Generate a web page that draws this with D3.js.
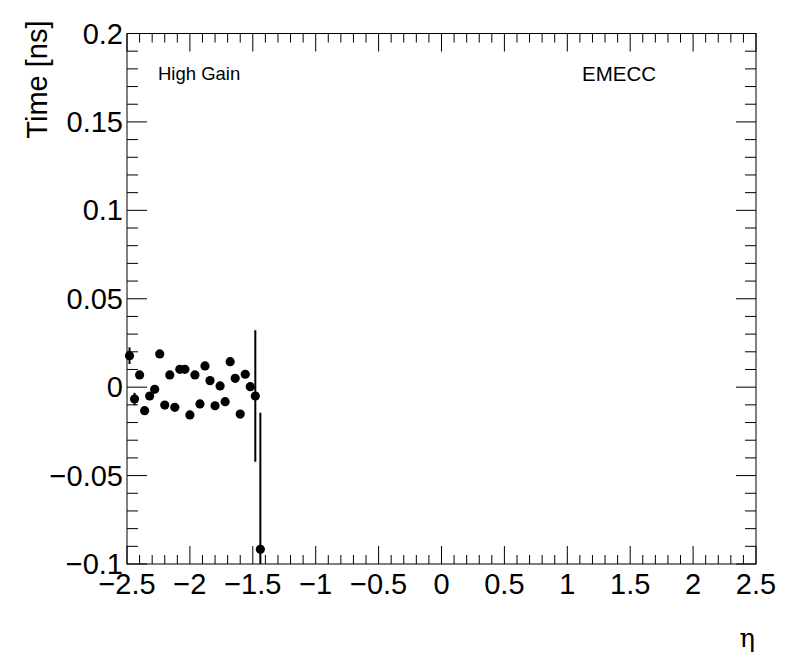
<!DOCTYPE html>
<html>
<head>
<meta charset="utf-8">
<script src="https://cdn.jsdelivr.net/npm/d3@7"></script>
<style>
  body { margin: 0; background: #fff; }
  text { font-family: "Liberation Sans", Arial, sans-serif; }
</style>
</head>
<body>
<div id="chart"></div>
<script>
// eta bin centres (bin width 0.04 from -2.5)
const etaCenters = [-2.48, -2.44, -2.40, -2.36, -2.32, -2.28, -2.24, -2.20, -2.16, -2.12,
  -2.08, -2.04, -2.00, -1.96, -1.92, -1.88, -1.84, -1.80, -1.76, -1.72,
  -1.68, -1.64, -1.60, -1.56, -1.52, -1.48, -1.44];
const timeValues = [0.0178, -0.0067, 0.0069, -0.0133, -0.0050, -0.0012, 0.0188, -0.0101, 0.0069, -0.0114,
  0.0101, 0.0101, -0.0157, 0.0069, -0.0095, 0.0120, 0.0037, -0.0105, 0.0007, -0.0082,
  0.0144, 0.0050, -0.0152, 0.0073, 0.0003, -0.0050, -0.0917];
const timeErrors = [0.0047, 0.0035, 0.002, 0.002, 0.002, 0.002, 0.002, 0.002, 0.002, 0.002,
  0.002, 0.002, 0.002, 0.002, 0.002, 0.002, 0.002, 0.002, 0.002, 0.002,
  0.002, 0.002, 0.002, 0.002, 0.002, 0.0372, 0.0773];
const xTicks = [-2.5, -2, -1.5, -1, -0.5, 0, 0.5, 1, 1.5, 2, 2.5];
const yTicks = [-0.1, -0.05, 0, 0.05, 0.1, 0.15, 0.2];

const W = 796, H = 672;
const margin = {top: 33.5, right: 40, bottom: 108, left: 127};
const width = W - margin.left - margin.right,
  height = H - margin.top - margin.bottom;

const data = etaCenters.map((x, i) => ({x: x, y: timeValues[i], e: timeErrors[i]}));

const x = d3.scaleLinear().domain([-2.5, 2.5]).range([0, width]);
const y = d3.scaleLinear().domain([-0.1, 0.2]).range([height, 0]);

const svg = d3.select("#chart").append("svg")
  .attr("width", W).attr("height", H)
  .append("g")
  .attr("transform", "translate(" + margin.left + "," + margin.top + ")");

const fmt = d => String(d).replace("-", "\u2212");

// minor and major ticks on all four sides
const xMinor = d3.range(-25, 26).map(d => d / 10);
const yMinor = d3.range(-10, 21).map(d => d / 100);

function tickLen(v, step) { return Math.abs(Math.round(v / step) * step - v) < 1e-9 ? 18 : 9; }

svg.selectAll(".xt").data(xMinor).enter().append("line")
  .attr("x1", d => x(d)).attr("x2", d => x(d))
  .attr("y1", height).attr("y2", d => height - tickLen(d, 0.5))
  .attr("stroke", "#000");
svg.selectAll(".xtt").data(xMinor).enter().append("line")
  .attr("x1", d => x(d)).attr("x2", d => x(d))
  .attr("y1", 0).attr("y2", d => tickLen(d, 0.5))
  .attr("stroke", "#000");
svg.selectAll(".yt").data(yMinor).enter().append("line")
  .attr("y1", d => y(d)).attr("y2", d => y(d))
  .attr("x1", 0).attr("x2", d => tickLen(d, 0.05) + 2)
  .attr("stroke", "#000");
svg.selectAll(".ytr").data(yMinor).enter().append("line")
  .attr("y1", d => y(d)).attr("y2", d => y(d))
  .attr("x1", width).attr("x2", d => width - tickLen(d, 0.05) - 2)
  .attr("stroke", "#000");

svg.append("rect")
  .attr("width", width).attr("height", height)
  .attr("fill", "none").attr("stroke", "#000");

// tick labels
svg.selectAll(".xl").data(xTicks).enter().append("text")
  .attr("x", d => x(d)).attr("y", height + 30)
  .attr("text-anchor", "middle")
  .style("font-size", "29px")
  .text(fmt);
svg.selectAll(".yl").data(yTicks).enter().append("text")
  .attr("x", -4).attr("y", d => y(d) + 10)
  .attr("text-anchor", "end")
  .style("font-size", "29px")
  .text(fmt);

// axis titles
svg.append("text")
  .attr("transform", "translate(-80,-13) rotate(-90)")
  .attr("text-anchor", "end")
  .style("font-size", "29px")
  .text("Time [ns]");
svg.append("text")
  .attr("x", width - 1).attr("y", height + 83)
  .attr("text-anchor", "end")
  .style("font-family", "'DejaVu Serif', serif")
  .style("font-size", "26px")
  .text("\u03b7");

// labels inside the frame
svg.append("text").attr("x", 31).attr("y", 46)
  .style("font-size", "18.5px").text("High Gain");
svg.append("text").attr("x", 455).attr("y", 47)
  .style("font-size", "20.5px").text("EMECC");

// error bars and markers
const clip = svg.append("clipPath").attr("id", "clip")
  .append("rect").attr("width", width).attr("height", height);
const pts = svg.append("g").attr("clip-path", "url(#clip)");

pts.selectAll(".err").data(data).enter().append("line")
  .attr("x1", d => x(d.x)).attr("x2", d => x(d.x))
  .attr("y1", d => y(d.y - d.e)).attr("y2", d => y(d.y + d.e))
  .attr("stroke", "#000").attr("stroke-width", 2);
svg.selectAll(".pt").data(data).enter().append("circle")
  .attr("cx", d => x(d.x)).attr("cy", d => y(d.y))
  .attr("r", 4.6).attr("fill", "#000");
</script>
</body>
</html>
